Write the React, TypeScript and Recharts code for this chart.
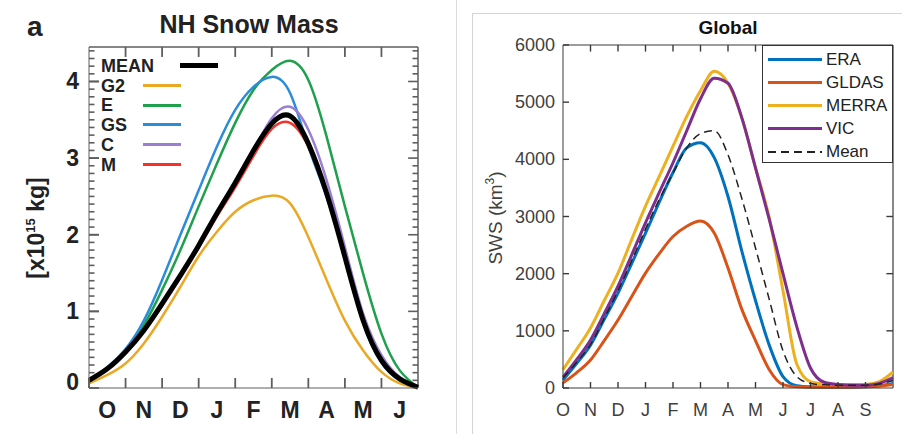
import { LineChart, Line, XAxis, YAxis, ReferenceLine } from "recharts";

// ---- panel a: NH snow mass, x = months after 1 Oct ----
const nhMonths = [0, 0.5, 1, 1.5, 2, 2.5, 3, 3.5, 4, 4.5, 5, 5.5, 6, 6.5, 7, 7.5, 8, 8.5, 9];
const nhMean = [0.1, 0.25, 0.47, 0.75, 1.1, 1.47, 1.86, 2.28, 2.68, 3.1, 3.45, 3.55, 3.19, 2.54, 1.71, 0.88, 0.36, 0.12, 0.01];
const nhG2 = [0.06, 0.17, 0.32, 0.58, 0.93, 1.32, 1.72, 2.04, 2.3, 2.45, 2.51, 2.41, 1.97, 1.41, 0.88, 0.49, 0.21, 0.06, 0.0];
const nhE = [0.08, 0.26, 0.49, 0.82, 1.28, 1.8, 2.37, 2.93, 3.46, 3.89, 4.15, 4.27, 4.02, 3.28, 2.37, 1.49, 0.71, 0.23, 0.01];
const nhGS = [0.08, 0.27, 0.51, 0.88, 1.41, 2.0, 2.58, 3.15, 3.63, 3.93, 4.06, 3.85, 3.15, 2.5, 1.7, 0.85, 0.33, 0.1, 0.01];
const nhC = [0.1, 0.25, 0.47, 0.75, 1.08, 1.45, 1.84, 2.26, 2.66, 3.1, 3.52, 3.67, 3.37, 2.71, 1.84, 0.97, 0.43, 0.14, 0.02];
const nhM = [0.1, 0.25, 0.46, 0.74, 1.07, 1.44, 1.83, 2.24, 2.62, 3.03, 3.38, 3.46, 3.15, 2.52, 1.7, 0.87, 0.35, 0.11, 0.01];
const nhMonthLabels = ["O", "N", "D", "J", "F", "M", "A", "M", "J"];
const nhYLabels = [0, 1, 2, 3, 4];

// ---- panel b: global SWS (km3), x = month index from Oct ----
const gMonths = [0, 0.5, 1, 1.5, 2, 2.5, 3, 3.5, 4, 4.5, 5, 5.5, 6, 6.5, 7, 7.5, 8, 8.5, 9, 9.5, 10, 10.5, 11, 11.5, 12];
const gEra = [140, 430, 750, 1200, 1660, 2180, 2710, 3250, 3770, 4200, 4290, 4030, 3350, 2400, 1530, 750, 200, 40, 20, 15, 15, 15, 20, 40, 80];
const gGldas = [90, 270, 490, 830, 1190, 1600, 2010, 2350, 2650, 2830, 2920, 2710, 2100, 1380, 830, 320, 60, 20, 15, 15, 15, 15, 20, 35, 60];
const gMerra = [320, 680, 1050, 1530, 2010, 2600, 3180, 3700, 4230, 4750, 5200, 5540, 5330, 4730, 3850, 2980, 1700, 420, 110, 70, 60, 60, 60, 110, 280];
const gVic = [190, 500, 840, 1300, 1780, 2330, 2890, 3420, 3940, 4500, 5060, 5420, 5330, 4730, 3850, 2950, 2000, 1075, 350, 100, 60, 50, 50, 80, 180];
const gMean = [180, 450, 760, 1220, 1700, 2230, 2780, 3300, 3760, 4200, 4450, 4500, 4080, 3320, 2450, 1550, 650, 200, 80, 55, 50, 50, 50, 70, 130];
const gMonthLabels = ["O", "N", "D", "J", "F", "M", "A", "M", "J", "J", "A", "S"];
const gYTicks = [0, 1000, 2000, 3000, 4000, 5000, 6000];

const FONT = "'Liberation Sans', Arial, Helvetica, sans-serif";

const nhSeries = [
  { key: "E", color: "#1fa04c", values: nhE, width: 2.5 },
  { key: "GS", color: "#2b8cd8", values: nhGS, width: 2.5 },
  { key: "C", color: "#9a7fd4", values: nhC, width: 2.5 },
  { key: "M", color: "#f7302b", values: nhM, width: 2.5 },
  { key: "G2", color: "#eaa824", values: nhG2, width: 2.5 },
  { key: "MEAN", color: "#000000", values: nhMean, width: 5 },
];
const nhLegend = ["MEAN", "G2", "E", "GS", "C", "M"];

const gSeries = [
  { key: "ERA", color: "#0072bd", values: gEra, dash: undefined as string | undefined, width: 3 },
  { key: "GLDAS", color: "#d95319", values: gGldas, dash: undefined, width: 3 },
  { key: "MERRA", color: "#edb120", values: gMerra, dash: undefined, width: 3 },
  { key: "VIC", color: "#7e2f8e", values: gVic, dash: undefined, width: 3 },
  { key: "Mean", color: "#222222", values: gMean, dash: "8 5", width: 1.5 },
];

const nhData = nhMonths.map((m, i) => {
  const row: Record<string, number> = { m };
  nhSeries.forEach((s) => (row[s.key] = s.values[i]));
  return row;
});
const gData = gMonths.map((m, i) => {
  const row: Record<string, number> = { m };
  gSeries.forEach((s) => (row[s.key] = s.values[i]));
  return row;
});

const NH_FRAME = "#5e5e5e";
const G_FRAME = "#3a3a3a";
const NH_HALF_MONTH = 329 / 9 / 2;

// box limits and inward tick lengths, in data units
const NH_X1 = 9;
const NH_Y1 = 4.45;
const NH_TICK_V = 0.13; // ~10px
const NH_TICK_MAJ = 0.27; // ~10px
const NH_TICK_MIN = 0.15; // ~5.5px
const G_X1 = 12;
const G_Y1 = 6000;
const G_TICK_V = 115; // ~6.5px
const G_TICK_H = 0.24; // ~6.5px

const nhMinor = Array.from({ length: 45 }, (_, i) => i / 10).filter((v) => v > 0);
const isMajor = (v: number) => Math.abs(v - Math.round(v)) < 1e-6;

function NhLeftTick(props: any) {
  const { x, y, payload } = props;
  const v = payload.value;
  return (
    <text x={x - 10} y={v === 0 ? y - 6 : y} dy={8} textAnchor="end" fontFamily={FONT} fontWeight="bold" fontSize={23} fill="#222">
      {v}
    </text>
  );
}
function NhBottomTick(props: any) {
  const { x, y, index } = props;
  return (
    <text x={x + NH_HALF_MONTH} y={y + 30} textAnchor="middle" fontFamily={FONT} fontWeight="bold" fontSize={23} fill="#222">
      {nhMonthLabels[index]}
    </text>
  );
}
function GLeftTick(props: any) {
  const { x, y, payload } = props;
  return (
    <text x={x - 8} y={y} dy={6} textAnchor="end" fontFamily={FONT} fontSize={18} fill="#404040">
      {payload.value}
    </text>
  );
}
function GBottomTick(props: any) {
  const { x, y, index } = props;
  return (
    <text x={x} y={y + 28} textAnchor="middle" fontFamily={FONT} fontSize={18} fill="#404040">
      {gMonthLabels[index]}
    </text>
  );
}

const abs = (s: React.CSSProperties): React.CSSProperties => ({ position: "absolute", lineHeight: 1, whiteSpace: "nowrap", ...s });

export default function App() {
  return (
    <div style={{ position: "absolute", left: 0, top: 0, width: 902, height: 434, background: "#fff", fontFamily: FONT }}>
      {/* panel a */}
      <div style={{ position: "absolute", left: 0, top: 0 }}>
        <LineChart width={450} height={434} data={nhData} margin={{ top: 47, right: 32, bottom: 0, left: 0 }}>
          <XAxis dataKey="m" type="number" domain={[0, NH_X1]} ticks={[0, 1, 2, 3, 4, 5, 6, 7, 8]} height={46} stroke={NH_FRAME} tickLine={{ stroke: NH_FRAME, strokeWidth: 1.8 }} tickSize={-10} tickMargin={10} tick={<NhBottomTick />} />
          <YAxis type="number" domain={[0, NH_Y1]} ticks={nhYLabels} width={89} stroke={NH_FRAME} tickLine={{ stroke: NH_FRAME, strokeWidth: 1.8 }} tickSize={-10} tickMargin={10} tick={<NhLeftTick />} />
          <ReferenceLine y={NH_Y1} stroke={NH_FRAME} strokeWidth={1.5} />
          <ReferenceLine x={NH_X1} stroke={NH_FRAME} strokeWidth={1.5} />
          {[1, 2, 3, 4, 5, 6, 7, 8].map((t) => (
            <ReferenceLine key={`t${t}`} ifOverflow="visible" segment={[{ x: t, y: NH_Y1 }, { x: t, y: NH_Y1 - NH_TICK_V }]} stroke={NH_FRAME} strokeWidth={1.8} />
          ))}
          {nhMinor.map((v) => {
            const len = isMajor(v) ? NH_TICK_MAJ : NH_TICK_MIN;
            return [
              <ReferenceLine key={`l${v}`} ifOverflow="visible" segment={[{ x: 0, y: v }, { x: len, y: v }]} stroke={NH_FRAME} strokeWidth={1.6} />,
              <ReferenceLine key={`r${v}`} ifOverflow="visible" segment={[{ x: NH_X1, y: v }, { x: NH_X1 - len, y: v }]} stroke={NH_FRAME} strokeWidth={1.6} />,
            ];
          })}
          {nhSeries.map((s) => (
            <Line key={s.key} type="natural" dataKey={s.key} stroke={s.color} strokeWidth={s.width} dot={false} activeDot={false} isAnimationActive={false} />
          ))}
        </LineChart>
      </div>

      <div style={abs({ left: 27, top: 13, fontSize: 28, fontWeight: "bold", color: "#222" })}>a</div>
      <div style={abs({ left: 99, width: 300, top: 12, fontSize: 25, fontWeight: "bold", color: "#222", textAlign: "center" })}>NH Snow Mass</div>
      <div style={abs({ left: 36, top: 228, fontSize: 23, fontWeight: "bold", color: "#222", transform: "translate(-50%, -50%) rotate(-90deg)" })}>
        [x10<span style={{ fontSize: 13, position: "relative", top: -9 }}>15</span> kg]
      </div>
      {nhLegend.map((name, i) => {
        const s = nhSeries.find((d) => d.key === name)!;
        const cy = 65.5 + i * 19.8;
        const isMean = name === "MEAN";
        const h = isMean ? 4.5 : 3;
        return (
          <div key={name}>
            <div style={abs({ left: 101, top: cy - 8.7, fontSize: 18, fontWeight: "bold", color: "#222" })}>{name}</div>
            <div style={abs({ left: isMean ? 180 : 143, top: cy - h / 2, width: 38, height: h, background: s.color })} />
          </div>
        );
      })}

      {/* figure borders of panel b */}
      <div style={abs({ left: 456, top: 0, width: 1, height: 434, background: "#dcdcdc" })} />
      <div style={abs({ left: 472, top: 13, width: 430, height: 1, background: "#d4d4d4" })} />
      <div style={abs({ left: 472, top: 13, width: 1, height: 421, background: "#d4d4d4" })} />

      {/* panel b */}
      <div style={{ position: "absolute", left: 450, top: 0 }}>
        <LineChart width={452} height={434} data={gData} margin={{ top: 45, right: 9, bottom: 0, left: 0 }}>
          <XAxis dataKey="m" type="number" domain={[0, G_X1]} ticks={[0, 1, 2, 3, 4, 5, 6, 7, 8, 9, 10, 11]} height={46} stroke={G_FRAME} tickLine={{ stroke: G_FRAME, strokeWidth: 1.4 }} tickSize={-6} tickMargin={6} tick={<GBottomTick />} />
          <YAxis type="number" domain={[0, G_Y1]} ticks={gYTicks} width={113} stroke={G_FRAME} tickLine={{ stroke: G_FRAME, strokeWidth: 1.4 }} tickSize={-6} tickMargin={6} tick={<GLeftTick />} />
          <ReferenceLine y={G_Y1} stroke={G_FRAME} strokeWidth={1.2} />
          <ReferenceLine x={G_X1} stroke={G_FRAME} strokeWidth={1.2} />
          {[1, 2, 3, 4, 5, 6, 7, 8, 9, 10, 11].map((t) => (
            <ReferenceLine key={`t${t}`} ifOverflow="visible" segment={[{ x: t, y: G_Y1 }, { x: t, y: G_Y1 - G_TICK_V }]} stroke={G_FRAME} strokeWidth={1.4} />
          ))}
          {gYTicks.slice(1, -1).map((v) => (
            <ReferenceLine key={`r${v}`} ifOverflow="visible" segment={[{ x: G_X1, y: v }, { x: G_X1 - G_TICK_H, y: v }]} stroke={G_FRAME} strokeWidth={1.4} />
          ))}
          {gSeries.map((s) => (
            <Line key={s.key} type="monotone" dataKey={s.key} stroke={s.color} strokeWidth={s.width} strokeDasharray={s.dash} dot={false} activeDot={false} isAnimationActive={false} />
          ))}
        </LineChart>
      </div>

      <div style={abs({ left: 628, width: 200, top: 18, fontSize: 19, fontWeight: "bold", color: "#111", textAlign: "center" })}>Global</div>
      <div style={abs({ left: 495, top: 218, fontSize: 19, color: "#404040", transform: "translate(-50%, -50%) rotate(-90deg)" })}>
        SWS (km<span style={{ fontSize: 12, position: "relative", top: -8 }}>3</span>)
      </div>
      <div style={abs({ left: 762, top: 45, width: 131, height: 118, background: "#fff", border: "1px solid #333", boxSizing: "border-box" })} />
      {gSeries.map((s, i) => {
        const cy = 59 + i * 23.2;
        const h = s.dash ? 1.5 : 3;
        const bg = s.dash ? `repeating-linear-gradient(90deg, ${s.color} 0 8px, transparent 8px 13px)` : s.color;
        return (
          <div key={s.key}>
            <div style={abs({ left: 768, top: cy - h / 2, width: 54, height: h, background: bg })} />
            <div style={abs({ left: 826, top: cy - 8.4, fontSize: 17, color: "#222" })}>{s.key}</div>
          </div>
        );
      })}
    </div>
  );
}
